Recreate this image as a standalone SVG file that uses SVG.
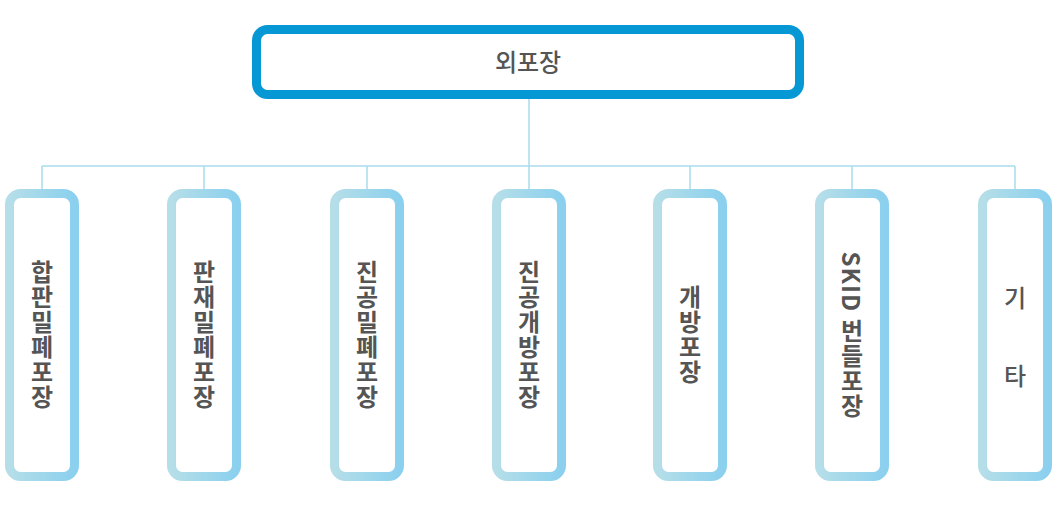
<svg xmlns="http://www.w3.org/2000/svg" width="1061" height="508" viewBox="0 0 1061 508">
<defs>
<linearGradient id="g" x1="0" y1="0" x2="1" y2="0">
<stop offset="0" stop-color="#b5dee8"/>
<stop offset="1" stop-color="#8bd0ee"/>
</linearGradient>
<style>
.top{fill:#fff;stroke:#0598d4;stroke-width:9}
.box{fill:#fff;stroke:url(#g);stroke-width:9}
.con{fill:none;stroke:#a8dcec;stroke-width:1.5}
.t{font-family:"Noto Sans CJK KR","Noto Sans",sans-serif;fill:#555}
.v{font-family:"Noto Sans CJK KR","Noto Sans",sans-serif;fill:#555;font-size:24px;font-weight:700;writing-mode:vertical-rl;text-anchor:middle;letter-spacing:1px}
.h{font-family:"Noto Sans CJK KR","Noto Sans",sans-serif;fill:#555;font-size:24px;font-weight:500;text-anchor:middle}
</style>
</defs>
<g id="connectors">
<path class="con" d="M529 99V166M42 166H1015M42 166V189M204 166V189M367 166V189M529 166V189M690 166V189M852 166V189M1015 166V189"/>
</g>
<g id="root">
<rect class="top" x="256.5" y="29.5" width="543" height="65" rx="11"/>
<text class="t" x="528" y="71" font-size="24" font-weight="500" text-anchor="middle">외포장</text>
</g>
<g id="n1">
<rect class="box" x="9.5" y="193.5" width="65" height="283" rx="11"/>
<text class="v" x="42" y="335">합판밀폐포장</text>
</g>
<g id="n2">
<rect class="box" x="171.5" y="193.5" width="65" height="283" rx="11"/>
<text class="v" x="204" y="335">판재밀폐포장</text>
</g>
<g id="n3">
<rect class="box" x="334.5" y="193.5" width="65" height="283" rx="11"/>
<text class="v" x="367" y="335">진공밀폐포장</text>
</g>
<g id="n4">
<rect class="box" x="496.5" y="193.5" width="65" height="283" rx="11"/>
<text class="v" x="529" y="335">진공개방포장</text>
</g>
<g id="n5">
<rect class="box" x="657.5" y="193.5" width="65" height="283" rx="11"/>
<text class="v" x="690" y="335">개방포장</text>
</g>
<g id="n6">
<rect class="box" x="819.5" y="193.5" width="65" height="283" rx="11"/>
<text class="v" x="852" y="335">SKID 번들포장</text>
</g>
<g id="n7">
<rect class="box" x="982.5" y="193.5" width="65" height="283" rx="11"/>
<text class="h" x="1015" y="307">기</text>
<text class="h" x="1015" y="385">타</text>
</g>
</svg>
